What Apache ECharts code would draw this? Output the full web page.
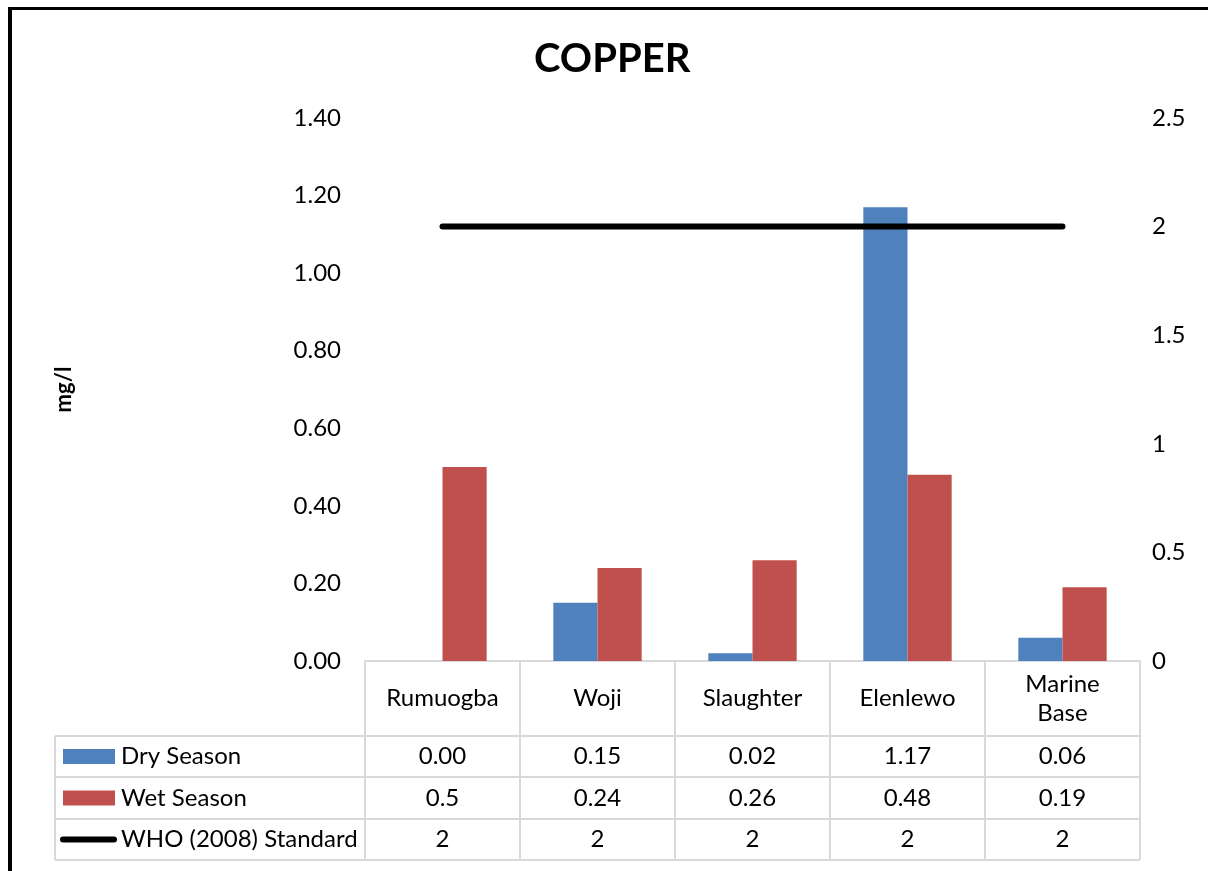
<!DOCTYPE html>
<html>
<head>
<meta charset="utf-8">
<script src="https://cdn.jsdelivr.net/npm/echarts@6/dist/echarts.min.js"></script>
<style>
  html, body { margin: 0; padding: 0; background: #fff; }
  #chart { width: 1208px; height: 871px; }
</style>
</head>
<body>
<div id="chart"></div>
<script>
// Copper concentration by sampling site
const sites = ['Rumuogba', 'Woji', 'Slaughter', 'Elenlewo', 'Marine\nBase'];
const drySeason = [0.00, 0.15, 0.02, 1.17, 0.06];
const wetSeason = [0.5, 0.24, 0.26, 0.48, 0.19];
const whoStandard = [2, 2, 2, 2, 2];
const seriesNames = ['Dry Season', 'Wet Season', 'WHO (2008) Standard'];
const leftTicks = { min: 0, max: 1.4, interval: 0.2 };
const rightTicks = { min: 0, max: 2.5, interval: 0.5 };

const FONT = 'Lato';
const FS = 24;
const BLUE = '#4F81BD';
const RED = '#C0504D';
const GRIDLINE = '#D9D9D9';

const gridLeft = 365, gridTop = 118, gridWidth = 775, gridHeight = 543;
const rowBounds = [661, 736, 777, 819, 860]; // header row + three data rows
const tableLeft = 55;

const chart = echarts.init(document.getElementById('chart'), null, { renderer: 'canvas' });

const option = {
  backgroundColor: '#fff',
  animation: false,
  title: {
    text: 'COPPER',
    left: 529, top: 34,
    textStyle: { fontFamily: FONT, fontWeight: 'bold', fontSize: 40, color: '#000' }
  },
  grid: { left: gridLeft, top: gridTop, width: gridWidth, height: gridHeight, containLabel: false },
  xAxis: {
    type: 'category',
    data: sites,
    axisLine: { show: true, lineStyle: { color: GRIDLINE, width: 2 } },
    axisTick: { show: true, length: rowBounds[1] - rowBounds[0], lineStyle: { color: GRIDLINE, width: 2 } },
    axisLabel: {
      margin: (rowBounds[1] - rowBounds[0]) / 2,
      verticalAlign: 'middle',
      fontFamily: FONT, fontSize: FS, color: '#000', lineHeight: 29
    }
  },
  yAxis: [
    {
      type: 'value',
      min: leftTicks.min, max: leftTicks.max, interval: leftTicks.interval,
      name: 'mg/l',
      nameLocation: 'middle',
      nameGap: 290,
      nameTextStyle: { fontFamily: FONT, fontWeight: 'bold', fontSize: 22, color: '#000' },
      axisLine: { show: false }, axisTick: { show: false }, splitLine: { show: false },
      axisLabel: {
        margin: 24, fontFamily: FONT, fontSize: FS, color: '#000',
        formatter: v => v.toFixed(2)
      }
    },
    {
      type: 'value',
      min: rightTicks.min, max: rightTicks.max, interval: rightTicks.interval,
      axisLine: { show: false }, axisTick: { show: false }, splitLine: { show: false },
      axisLabel: { margin: 12, fontFamily: FONT, fontSize: FS, color: '#000' }
    }
  ],
  series: [
    {
      name: seriesNames[0], type: 'bar', yAxisIndex: 0, data: drySeason,
      barGap: '0%', barCategoryGap: '43%',
      itemStyle: { color: BLUE }
    },
    {
      name: seriesNames[1], type: 'bar', yAxisIndex: 0, data: wetSeason,
      barGap: '0%', barCategoryGap: '43%',
      itemStyle: { color: RED }
    },
    {
      name: seriesNames[2], type: 'line', yAxisIndex: 1, data: whoStandard,
      symbol: 'none', z: 5,
      lineStyle: { color: '#000', width: 6, cap: 'round' }
    }
  ]
};
chart.setOption(option);

// Data table under the plot: grid lines, legend keys and cell values
function buildTable() {
  const els = [];
  const colEdges = [];
  const colCenters = sites.map((s, i) => chart.convertToPixel({ xAxisIndex: 0 }, i));
  const half = gridWidth / sites.length / 2;
  colCenters.forEach(c => colEdges.push(c - half));
  colEdges.push(colCenters[colCenters.length - 1] + half);
  const right = colEdges[colEdges.length - 1];

  // horizontal rules of the data rows
  for (let r = 1; r < rowBounds.length; r++) {
    els.push({ type: 'line', shape: { x1: tableLeft, y1: rowBounds[r], x2: right, y2: rowBounds[r] },
      style: { stroke: GRIDLINE, lineWidth: 2 }, silent: true });
  }
  // vertical rules of the data rows
  [tableLeft].concat(colEdges).forEach(x => {
    els.push({ type: 'line', shape: { x1: x, y1: rowBounds[1], x2: x, y2: rowBounds[rowBounds.length - 1] },
      style: { stroke: GRIDLINE, lineWidth: 2 }, silent: true });
  });

  const rows = [
    { name: seriesNames[0], values: drySeason.map(v => v.toFixed(2)), key: 'bar', color: BLUE },
    { name: seriesNames[1], values: wetSeason.map(v => String(v)), key: 'bar', color: RED },
    { name: seriesNames[2], values: whoStandard.map(v => String(v)), key: 'line', color: '#000' }
  ];
  rows.forEach((row, r) => {
    const yMid = (rowBounds[r + 1] + rowBounds[r + 2]) / 2;
    if (row.key === 'bar') {
      els.push({ type: 'rect', shape: { x: 63, y: yMid - 7.5, width: 52, height: 15 },
        style: { fill: row.color }, silent: true });
    } else {
      els.push({ type: 'line', shape: { x1: 63, y1: yMid, x2: 114, y2: yMid },
        style: { stroke: row.color, lineWidth: 6, lineCap: 'round' }, silent: true });
    }
    els.push({ type: 'text', x: 121, y: yMid,
      style: { text: row.name, fontFamily: FONT, fontSize: FS, fill: '#000', verticalAlign: 'middle', align: 'left' }, silent: true });
    row.values.forEach((val, i) => {
      els.push({ type: 'text', x: colCenters[i], y: yMid,
        style: { text: val, fontFamily: FONT, fontSize: FS, fill: '#000', verticalAlign: 'middle', align: 'center' }, silent: true });
    });
  });

  // outer frame (top and left edges)
  els.push({ type: 'line', shape: { x1: 8, y1: 8.5, x2: 1208, y2: 8.5 }, style: { stroke: '#000', lineWidth: 3 }, silent: true });
  els.push({ type: 'line', shape: { x1: 10, y1: 7, x2: 10, y2: 871 }, style: { stroke: '#000', lineWidth: 4 }, silent: true });

  chart.setOption({ graphic: { elements: els } });
}
buildTable();
</script>
</body>
</html>
